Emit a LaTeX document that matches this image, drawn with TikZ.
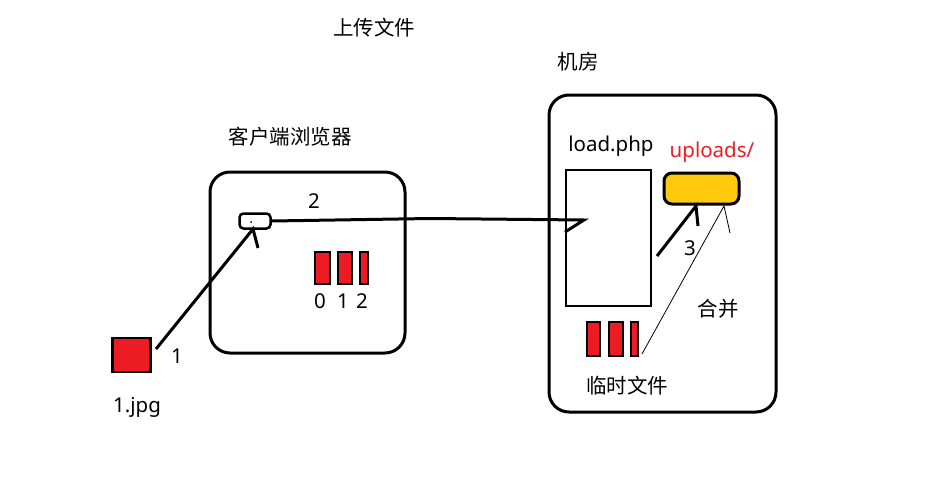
\documentclass[tikz,border=0pt]{standalone}
\usepackage{fontspec}
\setmainfont{Noto Sans}
\newfontfamily\cjk{Noto Sans CJK SC}
\definecolor{pred}{HTML}{ED1C24}
\definecolor{pyellow}{HTML}{FFC90E}
\begin{document}
\begin{tikzpicture}[x=1pt,y=-1pt,
  frame/.style={draw=black,line width=3pt,rounded corners=20pt},
  bar/.style={draw=black,line width=2pt,fill=pred},
  cn/.style={font=\cjk\fontsize{20.5}{24}\selectfont,inner sep=0pt},
  lt/.style={font=\fontsize{20.5}{24}\selectfont,inner sep=0pt},
  line/.style={draw=black,line width=3pt},
  thin/.style={draw=black,line width=0.8pt}]
\useasboundingbox (0,0) rectangle (940,503);
% titles
\node[cn] (title) at (374,28) {上传文件};
\node[cn] (room) at (578,62) {机房};
\node[cn] (clientlbl) at (290,137) {客户端浏览器};
% client box
\draw[frame] (210,172) rectangle (405,353);
\node[draw=black,line width=2.5pt,rounded corners=4pt,minimum width=31pt,minimum height=15pt,inner sep=0pt] (input) at (255,221) {};
\fill (251,222) circle (1pt);
\node[lt] (two) at (314,201) {2};
% bars in client
\draw[bar] (315,252) rectangle (330,284);
\draw[bar] (338,252) rectangle (352,284);
\draw[bar] (360,252) rectangle (368,284);
\node[lt] (n0) at (320,301) {0};
\node[lt] (n1) at (343,301) {1};
\node[lt] (n2) at (362,301) {2};
% file
\node[draw=black,line width=2.5pt,fill=pred,minimum width=38pt,minimum height=34pt,inner sep=0pt] (jpg) at (131.5,355) {};
\node[lt] (jpglbl) at (137,407) {1.jpg};
\node[lt] (one) at (177,356) {1};
% server box
\draw[frame] (549,95) rectangle (776,412);
\node[lt] (loadlbl) at (611,146) {load.php};
\node[draw=black,line width=2.5pt,minimum width=85pt,minimum height=136pt,inner sep=0pt] (load) at (608.5,238) {};
\node[lt,text=pred] (uplbl) at (712,152) {uploads/};
\node[draw=black,line width=3pt,fill=pyellow,rounded corners=8pt,minimum width=75pt,minimum height=31pt,inner sep=0pt] (uploads) at (701.5,188.5) {};
% temp bars
\draw[bar] (587,322) rectangle (600,356);
\draw[bar] (609,322) rectangle (623,356);
\draw[bar] (631,322) rectangle (638,356);
\coordinate (tmp) at (642,354);
\node[cn] (tmplbl) at (627,386) {临时文件};
\node[cn] (merge) at (718,309) {合并};
\node[lt] (three) at (690,248) {3};
% connector 1
\coordinate (a1s) at (156,349);
\coordinate (a1t) at (253,229);
\draw[line] (a1s) -- (a1t) -- (258,248);
% connector 2
\coordinate (a2t) at (584,220);
\draw[line] (input.east) -- (430,218.5) -- (a2t) -- (565,232);
% connector 3
\coordinate (a3s) at (657,256);
\coordinate (a3t) at (696,206);
\draw[line] (a3s) -- (a3t) -- (698,226);
% merge line
\coordinate (mt) at (724,206);
\draw[thin] (tmp) -- (mt) -- (730,233);
\end{tikzpicture}
\end{document}
